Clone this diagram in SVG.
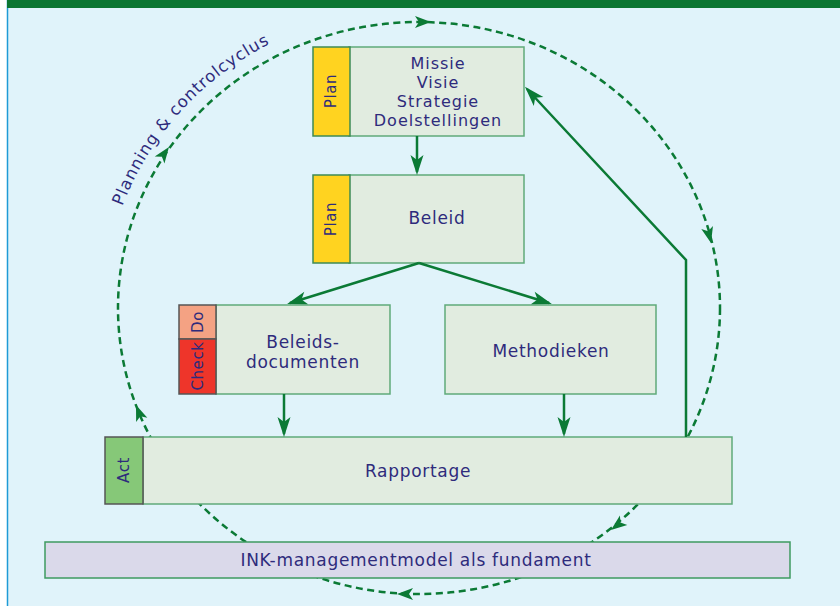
<svg xmlns="http://www.w3.org/2000/svg" xmlns:xlink="http://www.w3.org/1999/xlink" width="840" height="606" viewBox="0 0 840 606">
<style>
.box{fill:#E1ECE0;stroke:#5FAA7A;stroke-width:1.5}
.plan{fill:#FFD320;stroke:#3E8A55;stroke-width:1.5}
.do{fill:#F4A283;stroke:#555;stroke-width:1.5}
.check{fill:#EE352A;stroke:#555;stroke-width:1.5}
.act{fill:#86C878;stroke:#555;stroke-width:1.5}
.ink{fill:#DAD9EA;stroke:#3E9A60;stroke-width:1.5}
.t{font-family:"DejaVu Sans",sans-serif;font-size:17px;letter-spacing:0.7px;fill:#2E2B7C;text-anchor:middle}
.m{font-size:16px;letter-spacing:1px}
.s{font-family:"DejaVu Sans",sans-serif;font-size:15px;letter-spacing:0.6px;fill:#2E2B7C;text-anchor:middle}
.line{stroke:#0B7A35;stroke-width:2.5;fill:none}
.dash{stroke:#0B7A35;stroke-width:2.5;fill:none;stroke-dasharray:7 4.5}
.ah{fill:#0B7A35}
</style>
<defs>
<marker id="arr" viewBox="-21 -7 22 14" refX="-3" refY="0" markerWidth="22" markerHeight="14" markerUnits="userSpaceOnUse" orient="auto">
<path d="M0,0 L-20,-6.5 L-15,0 L-20,6.5 Z" fill="#0B7A35"/>
</marker>
<path id="dh" d="M0,0 L-16,-6 L-12,0 L-16,6 Z"/>
<path id="lbl" d="M104,320 A315 300 0 0 1 419 8"/>
</defs>
<rect x="0" y="0" width="840" height="606" fill="#FFFFFF"/>
<rect x="7" y="0" width="833" height="606" fill="#E0F3FA"/>
<line x1="7.5" y1="0" x2="7.5" y2="606" stroke="#1E9BD6" stroke-width="1.5"/>
<rect x="7" y="0" width="833" height="8" fill="#0B7632"/>

<g id="connectors">
<ellipse class="dash" cx="419" cy="308" rx="301" ry="286"/>
<g class="ah">
<use xlink:href="#dh" transform="translate(431,22)"/>
<use xlink:href="#dh" transform="translate(711,243) rotate(76)"/>
<use xlink:href="#dh" transform="translate(611,530) rotate(142)"/>
<use xlink:href="#dh" transform="translate(397,594) rotate(180)"/>
<use xlink:href="#dh" transform="translate(136,405) rotate(249)"/>
<use xlink:href="#dh" transform="translate(169,147) rotate(-54)"/>
</g>
</g>

<text class="t" style="font-size:16.5px;letter-spacing:0.9px"><textPath xlink:href="#lbl" startOffset="116" text-anchor="start">Planning &amp; controlcyclus</textPath></text>

<g id="missie">
<rect class="box" x="349" y="47" width="175" height="89"/>
<rect class="plan" x="313" y="47" width="37" height="89"/>
<text class="s" transform="translate(336,91) rotate(-90)">Plan</text>
<text class="t m" x="438" y="69">Missie</text>
<text class="t m" x="438" y="88">Visie</text>
<text class="t m" x="438" y="107">Strategie</text>
<text class="t m" x="438" y="126">Doelstellingen</text>
</g>

<g id="beleid">
<rect class="box" x="349" y="175" width="175" height="88"/>
<rect class="plan" x="313" y="175" width="37" height="88"/>
<text class="s" transform="translate(336,219) rotate(-90)">Plan</text>
<text class="t" x="437" y="224">Beleid</text>
</g>

<g id="beleidsdocumenten">
<rect class="box" x="216" y="305" width="174" height="89"/>
<rect class="do" x="179" y="305" width="37" height="34"/>
<rect class="check" x="179" y="339" width="37" height="55"/>
<text class="s" transform="translate(203,322) rotate(-90)">Do</text>
<text class="s" transform="translate(203,366) rotate(-90)">Check</text>
<text class="t" x="303" y="348">Beleids-</text>
<text class="t" x="303" y="368">documenten</text>
</g>

<g id="methodieken">
<rect class="box" x="445" y="305" width="211" height="89"/>
<text class="t" x="551" y="357">Methodieken</text>
</g>

<g id="rapportage">
<rect class="box" x="143" y="437" width="589" height="67"/>
<rect class="act" x="105" y="437" width="38" height="67"/>
<text class="s" transform="translate(129,470) rotate(-90)">Act</text>
<text class="t" x="418" y="477">Rapportage</text>
</g>

<g id="ink">
<rect class="ink" x="45" y="542" width="745" height="36"/>
<text class="t" x="416" y="566">INK-managementmodel als fundament</text>
</g>

<g id="arrows">
<line class="line" x1="417" y1="136" x2="417" y2="172" marker-end="url(#arr)"/>
<line class="line" x1="419" y1="263" x2="290" y2="303" marker-end="url(#arr)"/>
<line class="line" x1="419" y1="263" x2="549" y2="303" marker-end="url(#arr)"/>
<line class="line" x1="284" y1="394" x2="284" y2="434" marker-end="url(#arr)"/>
<line class="line" x1="564" y1="394" x2="564" y2="434" marker-end="url(#arr)"/>
<polyline class="line" points="686,437 686,260 527,89" marker-end="url(#arr)"/>
</g>
</svg>
